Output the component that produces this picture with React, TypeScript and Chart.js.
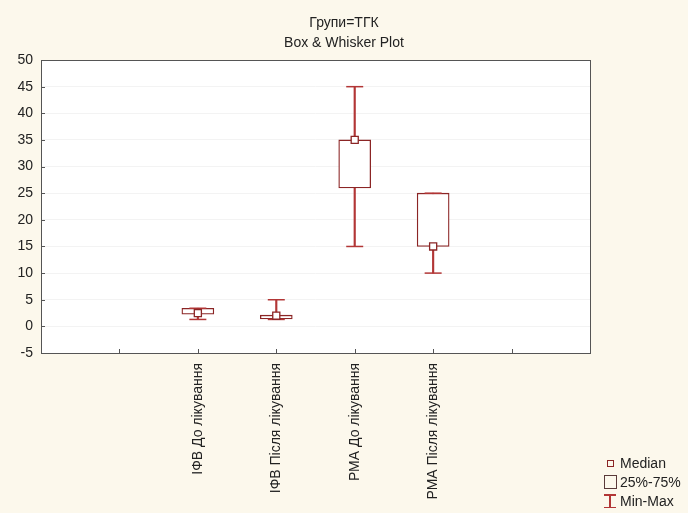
import React, { useEffect, useRef } from 'react';
import { Chart, registerables } from 'chart.js';
Chart.register(...registerables);

const titleLines = ['Групи=ТГК', 'Box & Whisker Plot'];
const categories = ['ІФВ До лікування', 'ІФВ Після лікування', 'РМА До лікування', 'РМА Після лікування'];
const mins = [1.3, 1.3, 15, 10];
const q1s = [2.3, 1.4, 26, 15];
const medians = [2.5, 2.0, 35, 15];
const q3s = [3.4, 2.1, 35, 25];
const maxs = [3.4, 5, 45, 25];
const yMin = -5;
const yMax = 50;
const yStep = 5;
const legendLabels = ['Median', '25%-75%', 'Min-Max'];

const BOX = '#8b2525';
const WHISK = '#b23636';
const FONT = "'Liberation Sans', Arial, sans-serif";

export default function App() {
  const ref = useRef<HTMLCanvasElement | null>(null);
  useEffect(() => {
    document.body.style.margin = '0';
    document.body.style.background = '#fcf8ec';
    const slot = (i: number) => i + 2;
    const frame = {
      id: 'frame',
      beforeDraw(c: any) {
        const { ctx, chartArea: a } = c;
        ctx.save();
        ctx.fillStyle = '#ffffff';
        ctx.fillRect(a.left, a.top, a.right - a.left, a.bottom - a.top);
        ctx.restore();
      },
      afterDraw(c: any) {
        const { ctx, chartArea: a } = c;
        ctx.save();
        ctx.strokeStyle = '#555';
        ctx.lineWidth = 1;
        ctx.strokeRect(Math.round(a.left) + 0.5, Math.round(a.top) + 0.5, Math.round(a.right - a.left), Math.round(a.bottom - a.top));
        ctx.beginPath();
        c.scales.y.ticks.forEach((t: any) => {
          const y = Math.round(c.scales.y.getPixelForValue(t.value)) + 0.5;
          ctx.moveTo(a.left, y);
          ctx.lineTo(a.left + 4, y);
        });
        c.scales.x.ticks.forEach((t: any) => {
          if (t.value <= 0 || t.value >= 7) return;
          const x = Math.round(c.scales.x.getPixelForValue(t.value)) + 0.5;
          ctx.moveTo(x, a.bottom);
          ctx.lineTo(x, a.bottom - 4);
        });
        ctx.stroke();
        ctx.restore();
      },
    };
    const chart = new Chart(ref.current as HTMLCanvasElement, {
      type: 'bar',
      data: {
        datasets: [
          {
            type: 'scatter',
            label: legendLabels[0],
            data: medians.map((v, i) => ({ x: slot(i), y: v })),
            pointStyle: 'rect',
            radius: 5,
            borderColor: BOX,
            backgroundColor: '#ffffff',
            borderWidth: 1.3,
            order: 0,
          } as any,
          {
            type: 'scatter',
            label: 'caps',
            data: [
              ...mins.map((v, i) => ({ x: slot(i), y: v })),
              ...maxs.map((v, i) => ({ x: slot(i), y: v })),
            ],
            pointStyle: 'line',
            radius: 8.5,
            borderColor: WHISK,
            borderWidth: 1.5,
            order: 1,
          } as any,
          {
            type: 'bar',
            label: legendLabels[1],
            data: q1s.map((v, i) => ({ x: slot(i), y: [v, q3s[i]] })),
            backgroundColor: '#ffffff',
            borderColor: BOX,
            borderWidth: 1.3,
            borderSkipped: false,
            barThickness: 32,
            grouped: false,
            order: 2,
          } as any,
          {
            type: 'bar',
            label: legendLabels[2],
            data: mins.map((v, i) => ({ x: slot(i), y: [v, maxs[i]] })),
            backgroundColor: WHISK,
            borderWidth: 0,
            barThickness: 1.5,
            grouped: false,
            order: 3,
          } as any,
        ],
      },
      options: {
        animation: false,
        responsive: false,
        maintainAspectRatio: false,
        layout: { padding: 0 },
        plugins: {
          legend: { display: false },
          tooltip: { enabled: false },
          title: {
            display: true,
            text: titleLines,
            color: '#222',
            font: { family: FONT, size: 14, weight: 'normal', lineHeight: 1.43 },
            padding: { top: 13, bottom: 7 },
          },
        },
        scales: {
          x: {
            type: 'linear',
            min: 0,
            max: 7,
            offset: false,
            afterFit: (s: any) => { s.height = 160; },
            grid: { display: false, drawTicks: false },
            border: { display: false },
            ticks: {
              stepSize: 1,
              autoSkip: false,
              maxRotation: 90,
              minRotation: 90,
              padding: 10,
              color: '#222',
              font: { family: FONT, size: 14 },
              callback: (v: any) => categories[Number(v) - 2] ?? '',
            },
          },
          y: {
            min: yMin,
            max: yMax,
            afterFit: (s: any) => { s.width = 41; },
            grid: { color: '#f3f3f3', drawTicks: false },
            border: { display: false },
            ticks: {
              stepSize: yStep,
              padding: 8,
              color: '#222',
              font: { family: FONT, size: 14 },
            },
          },
          yRight: {
            type: 'linear',
            position: 'right',
            display: true,
            min: 0,
            max: 1,
            afterFit: (s: any) => { s.width = 98; },
            grid: { display: false, drawTicks: false },
            border: { display: false },
            ticks: { display: false },
          },
        },
      } as any,
      plugins: [frame],
    });
    return () => chart.destroy();
  }, []);

  const txt: React.CSSProperties = { position: 'absolute', left: 620, font: `14px ${FONT}`, color: '#222', lineHeight: '16px' };
  return (
    <div style={{ position: 'relative', width: 688, height: 513, background: '#fcf8ec' }}>
      <canvas ref={ref} width={688} height={513} style={{ display: 'block' }} />
      <div style={{ position: 'absolute', left: 607, top: 460, width: 5, height: 5, border: `1.4px solid ${BOX}` }} />
      <div style={{ ...txt, top: 455 }}>{legendLabels[0]}</div>
      <div style={{ position: 'absolute', left: 604, top: 475, width: 11, height: 12, border: '1.3px solid #5a3a3a' }} />
      <div style={{ ...txt, top: 474 }}>{legendLabels[1]}</div>
      <div style={{ position: 'absolute', left: 604, top: 494, width: 12, height: 14 }}>
        <div style={{ position: 'absolute', left: 0, top: 0, width: 12, height: 1.5, background: WHISK }} />
        <div style={{ position: 'absolute', left: 5.25, top: 0, width: 1.5, height: 14, background: WHISK }} />
        <div style={{ position: 'absolute', left: 0, top: 12.5, width: 12, height: 1.5, background: WHISK }} />
      </div>
      <div style={{ ...txt, top: 493 }}>{legendLabels[2]}</div>
    </div>
  );
}
